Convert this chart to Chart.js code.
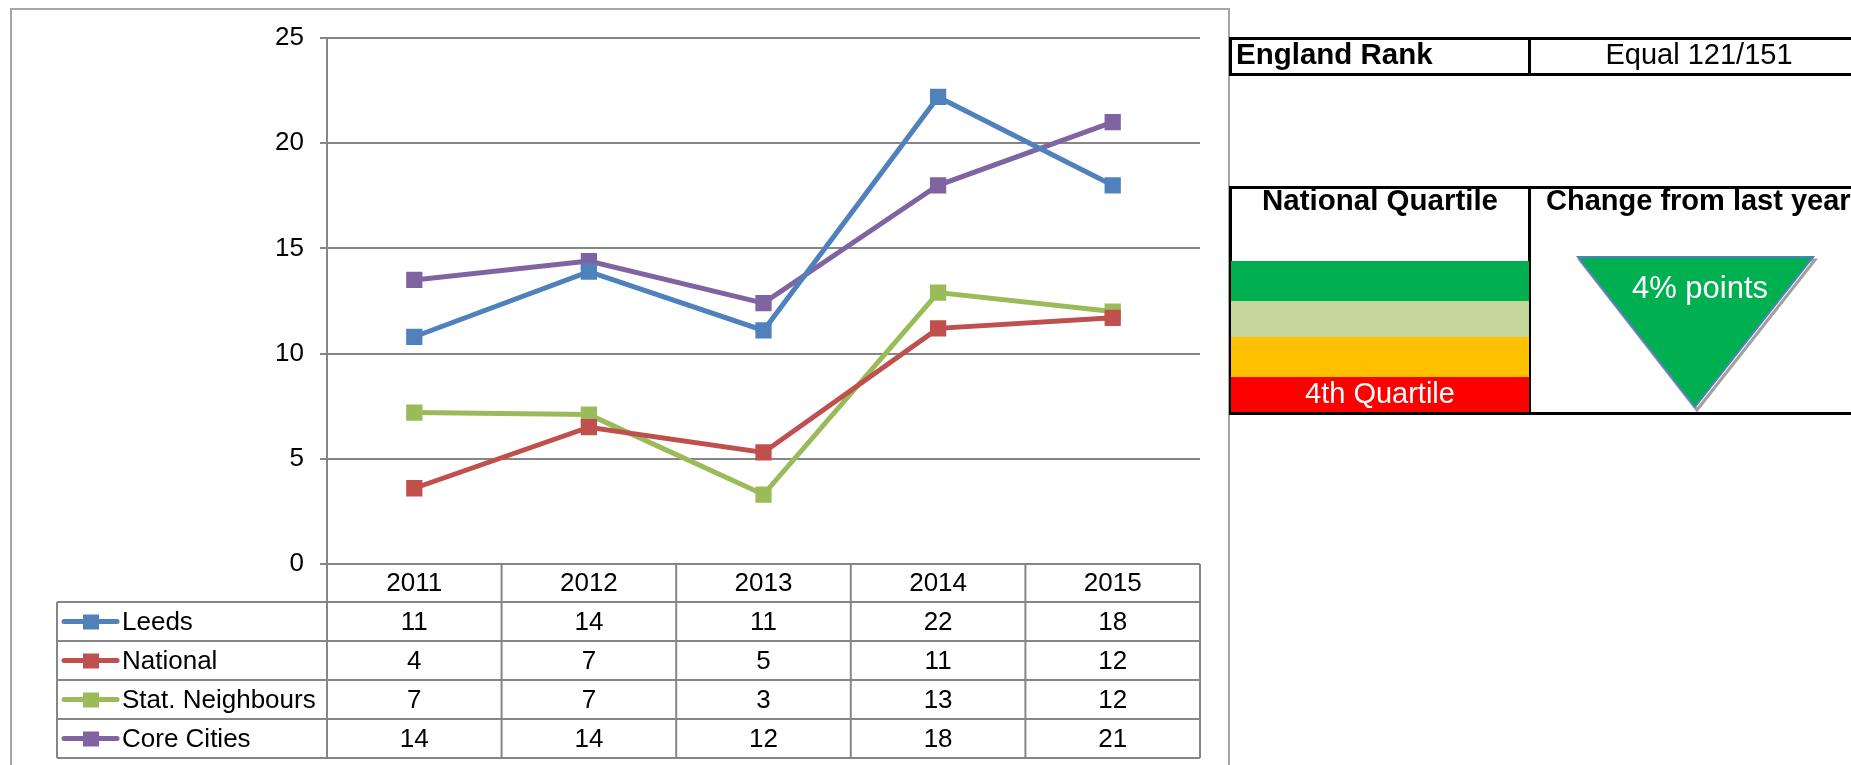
<!DOCTYPE html>
<html>
<head>
<meta charset="utf-8">
<script src="https://cdn.jsdelivr.net/npm/chart.js@4.4.0/dist/chart.umd.min.js"></script>
<style>
  body { margin: 0; background: #fff; width: 1851px; height: 765px; overflow: hidden; position: relative;
         font-family: "Liberation Sans", Arial, sans-serif; }
  #frame { position: absolute; left: 10px; top: 8px; width: 1220px; height: 800px; border: 2px solid #a6a6a6; box-sizing: border-box; }
  #chart { position: absolute; left: 0; top: 0; }
  .cell { position: absolute; border: 3px solid #000; box-sizing: border-box; }
  .bar { position: absolute; left: 1231px; width: 298px; }
  .txt { position: absolute; font-size: 29px; white-space: nowrap; color: #000; }
</style>
</head>
<body>
<div id="frame"></div>
<canvas id="chart" width="1230" height="765"></canvas>

<!-- panneau de droite -->
<div class="cell" style="left:1229px;top:37px;width:302px;height:39px;"></div>
<div class="cell" style="left:1528px;top:37px;width:342px;height:39px;"></div>
<div class="txt" style="left:1236px;top:39px;font-size:29.5px;font-weight:bold;line-height:30px;">England Rank</div>
<div class="txt" style="left:1528px;top:39px;width:342px;text-align:center;line-height:30px;">Equal 121/151</div>

<div class="cell" style="left:1229px;top:186px;width:302px;height:229px;"></div>
<div class="cell" style="left:1528px;top:186px;width:342px;height:229px;"></div>
<div class="bar" style="top:261px;height:40px;background:#00b050;"></div>
<div class="bar" style="top:301px;height:36px;background:#c3d69b;"></div>
<div class="bar" style="top:337px;height:40px;background:#ffc000;"></div>
<div class="bar" style="top:377px;height:35px;background:#ff0000;"></div>
<div class="txt" style="left:1231px;top:185px;width:298px;text-align:center;font-size:29.5px;font-weight:bold;line-height:30px;">National Quartile</div>
<div class="txt" style="left:1546px;top:185px;font-size:29px;font-weight:bold;line-height:30px;">Change from last year</div>
<div class="txt" style="left:1231px;top:378px;width:298px;text-align:center;color:#fff;line-height:30px;">4th Quartile</div>
<svg style="position:absolute;left:0;top:0;" width="1851" height="765">
  <polygon points="1580,260 1815,260 1697,410" fill="none" stroke="#a0a0a0" stroke-width="3"/>
  <polygon points="1578,257 1813,257 1695,407" fill="#00b050" stroke="#4f81bd" stroke-width="2"/>
</svg>
<div class="txt" style="left:1600px;top:271px;width:200px;text-align:center;color:#fff;font-size:31px;line-height:34px;">4% points</div>

<script>
// Données
const years = ['2011', '2012', '2013', '2014', '2015'];
const leeds = [10.8, 13.9, 11.1, 22.2, 18.0];
const national = [3.6, 6.5, 5.3, 11.2, 11.7];
const statNeighbours = [7.2, 7.1, 3.3, 12.9, 12.0];
const coreCities = [13.5, 14.4, 12.4, 18.0, 21.0];

const seriesNames = ['Leeds', 'National', 'Stat. Neighbours', 'Core Cities'];
const seriesColors = ['#4f81bd', '#c0504d', '#9bbb59', '#8064a2'];
const seriesValues = [leeds, national, statNeighbours, coreCities];

const yTicks = [0, 5, 10, 15, 20, 25];

const FONT = '"Liberation Sans", Arial, sans-serif';
const GRID = '#868686';

// Tableau de données façon Excel sous le graphique
const dataTablePlugin = {
    id: 'dataTable',
    afterDraw(chart) {
        const { ctx, chartArea: a, scales: { x } } = chart;
        const colW = (a.right - a.left) / years.length;
        const headTop = a.bottom;
        const headH = 38;
        const rowH = 39;
        const legLeft = 57;
        const rowsTop = headTop + headH;
        const tableBottom = rowsTop + rowH * seriesNames.length;

        ctx.save();
        ctx.strokeStyle = GRID;
        ctx.lineWidth = 2;
        ctx.beginPath();
        ctx.moveTo(a.left, headTop); ctx.lineTo(a.right, headTop);
        for (let r = 0; r <= seriesNames.length; r++) {
            const y = rowsTop + r * rowH;
            ctx.moveTo(legLeft, y); ctx.lineTo(a.right, y);
        }
        for (let c = 0; c <= years.length; c++) {
            const xx = a.left + c * colW;
            ctx.moveTo(xx, headTop); ctx.lineTo(xx, tableBottom);
        }
        ctx.moveTo(legLeft, rowsTop); ctx.lineTo(legLeft, tableBottom);
        ctx.stroke();

        ctx.font = '26px ' + FONT;
        ctx.textBaseline = 'middle';
        ctx.fillStyle = '#000';
        ctx.textAlign = 'center';
        years.forEach((yr, i) => ctx.fillText(yr, x.getPixelForValue(i), headTop + headH / 2 + 1));

        seriesNames.forEach((name, r) => {
            const cy = rowsTop + r * rowH + rowH / 2 + 1;
            const color = seriesColors[r];
            ctx.fillStyle = '#000';
            ctx.textAlign = 'center';
            seriesValues[r].forEach((v, i) => ctx.fillText(String(Math.round(v)), x.getPixelForValue(i), cy));

            // clé de légende
            ctx.strokeStyle = color;
            ctx.lineWidth = 5;
            ctx.lineCap = 'round';
            ctx.beginPath();
            ctx.moveTo(64, cy - 1); ctx.lineTo(117, cy - 1);
            ctx.stroke();
            ctx.fillStyle = color;
            ctx.fillRect(83, cy - 8, 16, 15);

            ctx.fillStyle = '#000';
            ctx.textAlign = 'left';
            ctx.fillText(name, 122, cy);
        });
        ctx.restore();
    }
};

const ctx = document.getElementById('chart').getContext('2d');
new Chart(ctx, {
    type: 'line',
    plugins: [dataTablePlugin],
    data: {
        labels: years,
        datasets: seriesNames.map((name, i) => ({
            label: name,
            data: seriesValues[i],
            borderColor: seriesColors[i],
            backgroundColor: seriesColors[i],
            borderWidth: 5,
            tension: 0,
            pointStyle: 'rect',
            pointRadius: 11.5,
            pointBorderWidth: 0,
            pointHoverRadius: 11.5
        }))
    },
    options: {
        responsive: false,
        animation: false,
        layout: { padding: { left: 0, right: 30, top: 38, bottom: 201 } },
        plugins: { legend: { display: false }, tooltip: { enabled: false } },
        scales: {
            x: { display: false, offset: true },
            y: {
                min: 0,
                max: 25,
                afterBuildTicks: (s) => { s.ticks = yTicks.map(v => ({ value: v })); },
                afterFit: (s) => { s.width = 327; },
                ticks: { color: '#000', padding: 16, font: { size: 26, family: FONT } },
                grid: { color: GRID, lineWidth: 2, tickLength: 7 },
                border: { color: GRID, width: 2 }
            }
        }
    }
});
</script>
</body>
</html>
